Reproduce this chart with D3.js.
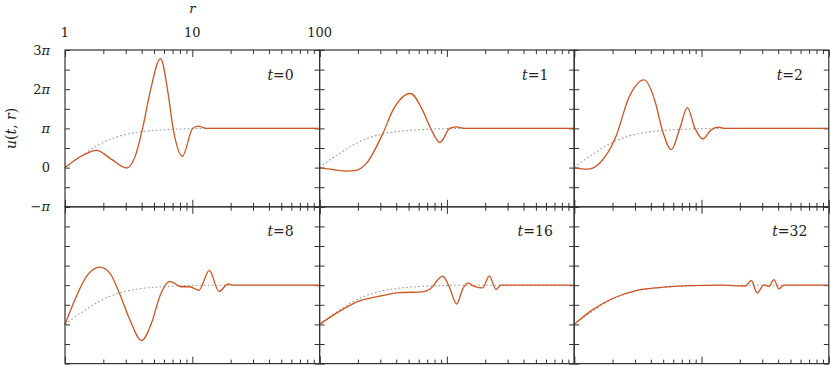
<!DOCTYPE html>
<html>
<head>
<meta charset="utf-8">
<script src="https://cdn.jsdelivr.net/npm/d3@7"></script>
<style>
  body { margin: 0; background: #fff; }
</style>
</head>
<body>
<div id="chart"></div>
<script>
var width = 830;
var height = 366;
var marginLeft = 65;
var marginTop = 50;
var panelW = 254.6;
var panelH = 156.8;
var serif = '"DejaVu Serif", "Liberation Serif", serif';

// times shown in the six panels
var tValues = [0, 1, 2, 8, 16, 32];

// axis ticks
var rMajor = [1, 10, 100];
var rMinor = [2, 3, 4, 5, 6, 7, 8, 9, 20, 30, 40, 50, 60, 70, 80, 90];
var uTicks = [-1, -0.5, 0, 0.5, 1, 1.5, 2, 2.5, 3];
var uLabelValues = [-1, 0, 1, 2, 3];
var uLabelCoef = ['\u2212', '0', '', '2', '3'];
var uLabelPi = ['\u03c0', '', '\u03c0', '\u03c0', '\u03c0'];

// static solution (dotted), pairs of [r, u/pi]
var staticU = [[1, 0], [1.23, 0.22], [1.45, 0.37], [1.88, 0.6], [2.6, 0.79], [3.5, 0.89],
  [4.7, 0.94], [6.5, 0.97], [9, 0.99], [13, 1], [100, 1]];

// u(t, r) for each t, pairs of [r, u/pi]
var waveT0 = [[1, 0], [1.31, 0.27], [1.77, 0.44], [2.32, 0.21], [3.05, -0.01], [3.55, 0.28],
  [4.07, 1.0], [4.64, 1.9], [5.63, 2.78], [6.45, 1.9], [7.07, 1.0], [8.38, 0.29], [10.04, 1.0],
  [11.1, 1.06], [12.9, 1.0], [100, 1]];
var waveT1 = [[1, 0], [1.27, -0.05], [1.62, -0.09], [1.94, -0.07], [2.32, 0.1], [3.14, 0.87],
  [3.76, 1.46], [5.17, 1.89], [6.45, 1.46], [7.43, 1.01], [8.83, 0.64], [10.5, 1.0],
  [11.8, 1.04], [13.7, 1.0], [100, 1]];
var waveT2 = [[1, 0], [1.27, -0.04], [1.57, 0.1], [2.12, 0.78], [2.7, 1.8], [3.54, 2.24],
  [4.37, 1.63], [4.88, 1.0], [5.8, 0.46], [6.75, 1.0], [7.74, 1.53], [8.89, 1.0], [10.27, 0.73],
  [11.8, 0.95], [13.6, 1.03], [15.5, 1.0], [100, 1]];
var waveT8 = [[1, 0], [1.23, 0.72], [1.48, 1.23], [1.88, 1.46], [2.25, 1.31], [2.7, 0.76],
  [3.23, 0.12], [4.0, -0.41], [4.79, 0.04], [5.56, 0.72], [6.66, 1.1], [8.22, 0.96],
  [9.56, 0.96], [11.27, 0.87], [13.6, 1.38], [16.2, 0.84], [19.1, 1.03], [20.9, 1.0], [100, 1]];
var waveT16 = [[1, 0], [1.44, 0.34], [2.06, 0.6], [2.95, 0.72], [4.24, 0.81], [6.45, 0.83],
  [7.29, 0.89], [9.27, 1.23], [10.4, 0.97], [11.94, 0.52], [13.3, 0.9], [14.6, 1.06],
  [16.4, 0.97], [19.1, 0.93], [21.5, 1.24], [24.3, 0.89], [26.6, 1.0], [100, 1]];
var waveT32 = [[1, 0], [1.39, 0.37], [2.0, 0.66], [3.05, 0.86], [4.64, 0.94], [8.46, 0.99],
  [14, 1.0], [22.2, 0.98], [24.6, 1.12], [27.4, 0.8], [30.9, 1.01], [33.9, 0.97], [37.1, 1.14],
  [40.5, 0.91], [44.4, 1.0], [100, 1]];

var waves = [waveT0, waveT1, waveT2, waveT8, waveT16, waveT32];

var svg = d3.select('#chart')
  .append('svg')
  .attr('width', width)
  .attr('height', height)
  .attr('font-family', serif);

var x = d3.scaleLog().domain([1, 100]).range([0, panelW]);
var y = d3.scaleLinear().domain([-1, 3]).range([panelH, 0]);

var line = d3.line()
  .x(function(d) { return x(d[0]); })
  .y(function(d) { return y(d[1]); })
  .curve(d3.curveMonotoneX);

function styleAxis(a) {
  a.select('.domain').remove();
  a.selectAll('.tick line').attr('stroke', '#333').attr('stroke-width', 1);
}

tValues.forEach(function(t, i) {
  var col = i % 3;
  var row = Math.floor(i / 3);
  var g = svg.append('g')
    .attr('transform', 'translate(' + (marginLeft + col * panelW) + ',' + (marginTop + row * panelH) + ')');

  // ticks, pointing inward on all four sides
  g.append('g').call(d3.axisTop(x).tickValues(rMinor).tickSize(-4).tickFormat('')).call(styleAxis);
  g.append('g').call(d3.axisTop(x).tickValues(rMajor).tickSize(-7).tickFormat('')).call(styleAxis);
  g.append('g').attr('transform', 'translate(0,' + panelH + ')')
    .call(d3.axisBottom(x).tickValues(rMinor).tickSize(-4).tickFormat('')).call(styleAxis);
  g.append('g').attr('transform', 'translate(0,' + panelH + ')')
    .call(d3.axisBottom(x).tickValues(rMajor).tickSize(-7).tickFormat('')).call(styleAxis);
  g.append('g').call(d3.axisLeft(y).tickValues(uTicks).tickSize(-5).tickFormat('')).call(styleAxis);
  g.append('g').attr('transform', 'translate(' + panelW + ',0)')
    .call(d3.axisRight(y).tickValues(uTicks).tickSize(-5).tickFormat('')).call(styleAxis);

  // static solution
  g.append('path')
    .datum(staticU)
    .attr('d', line)
    .attr('fill', 'none')
    .attr('stroke', '#a0a0a0')
    .attr('stroke-width', 1.1)
    .attr('stroke-dasharray', '1.8,2.2');

  // u(t, r)
  g.append('path')
    .datum(waves[i])
    .attr('d', line)
    .attr('fill', 'none')
    .attr('stroke', '#cf5420')
    .attr('stroke-width', 1.3);

  // frame
  g.append('rect')
    .attr('width', panelW)
    .attr('height', panelH)
    .attr('fill', 'none')
    .attr('stroke', '#333')
    .attr('stroke-width', 1.2);

  // t label
  var lab = g.append('text')
    .attr('x', panelW - 39)
    .attr('y', 29.5)
    .attr('text-anchor', 'middle')
    .attr('font-size', 14)
    .attr('fill', '#222');
  lab.append('tspan').attr('font-style', 'italic').text('t');
  lab.append('tspan').text('=' + t);

  if (i === 0) {
    // top r axis labels
    g.selectAll('.rlab')
      .data(rMajor)
      .enter().append('text')
      .attr('x', function(d) { return x(d); })
      .attr('y', -13)
      .attr('text-anchor', 'middle')
      .attr('font-size', 13)
      .attr('fill', '#222')
      .text(function(d) { return d; });
    g.append('text')
      .attr('x', x(10))
      .attr('y', -37)
      .attr('text-anchor', 'middle')
      .attr('font-size', 13)
      .attr('font-style', 'italic')
      .attr('fill', '#222')
      .text('r');

    // u labels
    var ul = g.selectAll('.ulab')
      .data(uLabelValues)
      .enter().append('text')
      .attr('x', -15)
      .attr('y', function(d) { return y(d); })
      .attr('dy', '0.35em')
      .attr('text-anchor', 'end')
      .attr('font-size', 13)
      .attr('fill', '#222');
    ul.append('tspan').text(function(d, j) { return uLabelCoef[j]; });
    ul.append('tspan').attr('font-style', 'italic').text(function(d, j) { return uLabelPi[j]; });

    var ylab = g.append('text')
      .attr('transform', 'translate(-49,' + (panelH / 2) + ') rotate(-90)')
      .attr('text-anchor', 'middle')
      .attr('font-size', 14)
      .attr('fill', '#222');
    ylab.append('tspan').attr('font-style', 'italic').text('u');
    ylab.append('tspan').text('(');
    ylab.append('tspan').attr('font-style', 'italic').text('t');
    ylab.append('tspan').text(', ');
    ylab.append('tspan').attr('font-style', 'italic').text('r');
    ylab.append('tspan').text(')');
  }
});
</script>
</body>
</html>
